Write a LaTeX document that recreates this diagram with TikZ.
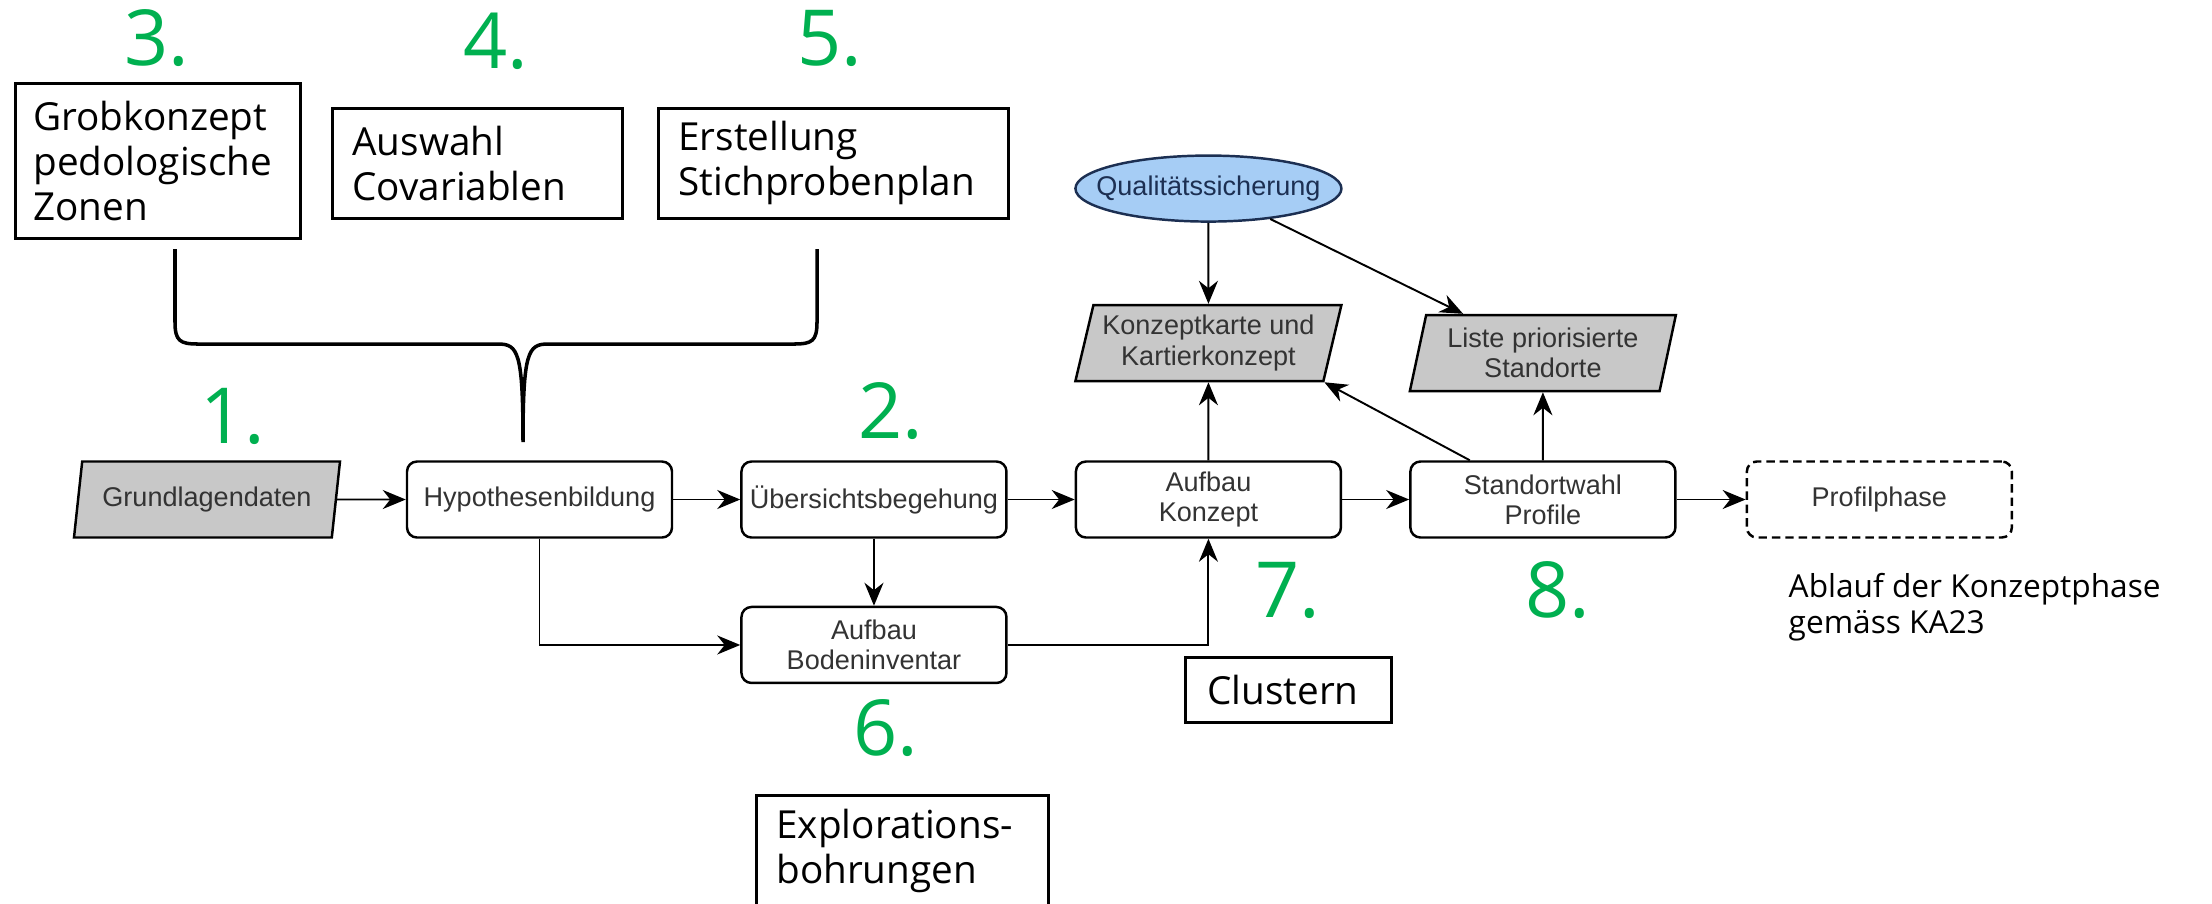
\documentclass[tikz,border=0pt]{standalone}
\usepackage{fontspec}
\setmainfont{Open Sans}
\newfontfamily\flowfont{Liberation Sans}
\usetikzlibrary{arrows.meta,positioning,shapes.geometric}
\definecolor{stepgreen}{HTML}{00B050}
\definecolor{datagray}{HTML}{C8C8C8}
\definecolor{qsblue}{HTML}{A6CDF5}
\definecolor{qsborder}{HTML}{1C2F52}
\definecolor{flowtext}{HTML}{333333}

\begin{document}
\begin{tikzpicture}[
    node distance=0.67cm and 0.67cm,
    block/.style={draw,rounded corners=0.1cm,line width=0.7pt,minimum height=0.76cm,minimum width=2.65cm,inner sep=0pt,align=center,text=flowtext,font=\flowfont\fontsize{7.7}{8.6}\selectfont},
    datablock/.style={block,trapezium,trapezium left angle=72,trapezium right angle=108,trapezium stretches body,rounded corners=0pt,fill=datagray,minimum width=2.66cm},
    qsnode/.style={ellipse,draw=qsborder,fill=qsblue,line width=0.7pt,inner sep=0pt,minimum width=2.66cm,minimum height=0.66cm,text=qsborder,font=\flowfont\fontsize{7.7}{8.6}\selectfont},
    notebox/.style={draw,line width=0.8pt,anchor=north west,align=left,inner xsep=0.2cm,inner ysep=0pt,font=\fontsize{11}{12.8}\selectfont},
    stepnum/.style={text=stepgreen,anchor=base,inner sep=0pt,font=\fontsize{22}{26}\selectfont},
    arrow/.style={-{Stealth[length=2.3mm,width=1.9mm]},line width=0.55pt}
]
\useasboundingbox (0,0) rectangle (22.12,-9.03);

\node[datablock] (grund) at (2.07,-4.995) {Grundlagendaten};
\node[block] (hyp) at (5.395,-4.995) {Hypothesenbildung};
\node[block,right=of hyp] (ueber) {Übersichtsbegehung};
\node[block,right=of ueber] (konzept) {Aufbau\\Konzept};
\node[block,right=of konzept] (wahl) {Standortwahl\\Profile};
\node[block,dash pattern=on 2.4pt off 1.4pt,right=0.69cm of wahl] (profil) {Profilphase};
\node[block,below=of ueber] (boden) {Aufbau\\Bodeninventar};
\node[datablock,above=0.78cm of konzept] (karte) {Konzeptkarte und\\Kartierkonzept};
\node[datablock,above=0.68cm of wahl] (liste) {Liste priorisierte\\Standorte};
\node[qsnode,above=0.81cm of karte] (qs) {\makebox[1.6cm]{Qualitätssicherung}};

\node[notebox,text width=2.49cm,minimum height=1.55cm,inner xsep=0.18cm] (grob) at (0.14,-0.82) {Grobkonzept\\pedologische\\Zonen};
\node[notebox,text width=2.50cm,minimum height=1.10cm] (auswahl) at (3.31,-1.07) {Auswahl\\Covariablen};
\node[notebox,text width=3.10cm,minimum height=1.10cm] (plan) at (6.57,-1.07) {Erstellung\\Stichprobenplan};
\node[notebox,text width=2.52cm,minimum height=1.12cm] (explo) at (7.55,-7.94) {Explorations-\\bohrungen};
\node[notebox,text width=1.62cm,minimum height=0.65cm,inner xsep=0.22cm] (cluster) at (11.84,-6.56) {Clustern};
\node[anchor=north west,inner sep=0pt,align=left,font=\fontsize{9}{10.2}\selectfont] (ablauf) at (17.88,-5.73) {Ablauf der Konzeptphase\\gemäss KA23};

\node[stepnum] (n1) at (2.33,-4.43) {1.};
\node[stepnum] (n2) at (8.91,-4.38) {2.};
\node[stepnum] (n3) at (1.57,-0.65) {3.};
\node[stepnum] (n4) at (4.96,-0.68) {4.};
\node[stepnum] (n5) at (8.30,-0.65) {5.};
\node[stepnum] (n6) at (8.86,-7.55) {6.};
\node[stepnum] (n7) at (12.88,-6.17) {7.};
\node[stepnum] (n8) at (15.58,-6.17) {8.};

\draw[line width=1pt] (1.75,-2.49) -- (1.75,-3.22) .. controls (1.75,-3.41) and (1.80,-3.44) .. (1.98,-3.44) -- (4.98,-3.44) .. controls (5.18,-3.44) and (5.23,-3.52) .. (5.23,-4.42) .. controls (5.23,-3.52) and (5.28,-3.44) .. (5.48,-3.44) -- (7.94,-3.44) .. controls (8.12,-3.44) and (8.17,-3.41) .. (8.17,-3.22) -- (8.17,-2.49);

\draw[arrow] (grund) -- (hyp);
\draw[arrow] (hyp) -- (ueber);
\draw[arrow] (ueber) -- (konzept);
\draw[arrow] (konzept) -- (wahl);
\draw[arrow] (wahl) -- (profil);
\draw[arrow] (ueber) -- (boden);
\draw[arrow] (hyp.south) |- (boden.west);
\draw[arrow] (boden.east) -| (konzept.south);
\draw[arrow] (konzept) -- (karte);
\draw[arrow] (qs) -- (karte);
\draw[arrow] (qs) -- (liste);
\draw[arrow] (wahl) -- (karte.bottom right corner);
\draw[arrow] (wahl) -- (liste);
\end{tikzpicture}
\end{document}
